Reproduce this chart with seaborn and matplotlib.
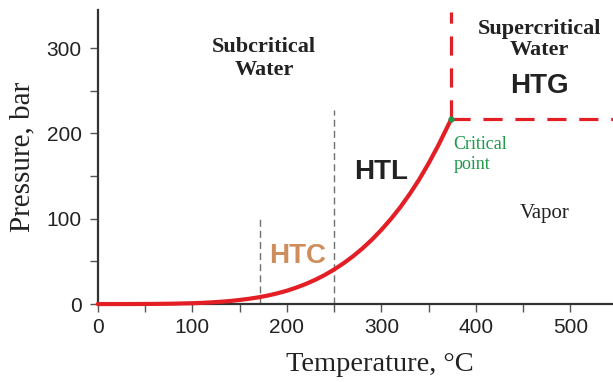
"""Water phase diagram with HTC / HTL / HTG processing regions."""

import matplotlib

matplotlib.use("Agg")
import matplotlib.pyplot as plt
import pandas as pd
import seaborn as sns

# vapour-pressure curve (temperature in C, pressure in bar)
temperature = [0, 20, 40, 60, 80, 100, 110, 120, 130, 140, 150, 160, 170, 180, 190,
               200, 210, 220, 230, 240, 250, 260, 270, 280, 290, 300, 310, 320, 330,
               340, 350, 360, 370, 374]
pressure = [0.0, 0.02, 0.07, 0.2, 0.47, 1.0, 1.4, 2.0, 2.7, 3.6, 4.8, 6.2, 7.9, 10.0, 12.6,
            15.6, 19.3, 23.5, 28.4, 34.0, 40.5, 47.8, 56.0, 65.2, 75.5, 87.0, 99.6, 113.5, 129.0,
            146.0, 165.0, 185.5, 208.0, 217.0]

critical_t = 374
critical_p = 217
htc_bounds = [172, 250]
htc_bound_tops = [100, 227]

x_ticks = [0, 100, 200, 300, 400, 500]
y_ticks = [0, 100, 200, 300]

RED = "#e31e25"
GREEN = "#1e9a4b"
TAN = "#d08d5c"
INK = "#222222"

sns.set_theme(style="ticks")
plt.rcParams["font.family"] = ["Liberation Sans", "DejaVu Sans"]

fig, ax = plt.subplots(figsize=(6.13, 3.82), dpi=100)
fig.subplots_adjust(left=0.1594, right=1.0, bottom=0.204, top=0.9746)

curve = pd.DataFrame({"T": temperature, "P": pressure})
sns.lineplot(data=curve, x="T", y="P", color=RED, linewidth=3.0, ax=ax,
             clip_on=False, zorder=4)

# HTC window boundaries
for t, top in zip(htc_bounds, htc_bound_tops):
    ax.plot([t, t], [0, top], color="#707070", linewidth=1.0, dashes=(5, 3), zorder=2)

# supercritical boundaries
ax.plot([critical_t, critical_t], [critical_p, 342], color=RED, linewidth=2.3,
        dashes=(6, 4), zorder=3)
ax.plot([critical_t, 545], [critical_p, critical_p], color=RED, linewidth=2.3,
        dashes=(6, 4), zorder=3)
ax.plot([critical_t], [critical_p], "o", color=GREEN, markersize=3.5, zorder=5)

ax.set_xlim(0, 545)
ax.set_ylim(0, 345)
ax.set_xticks(x_ticks)
ax.set_xticks(range(50, 550, 100), minor=True)
ax.set_yticks(y_ticks)
ax.set_yticks(range(50, 350, 100), minor=True)
ax.tick_params(which="both", direction="out", length=5.5, width=1.0, color="#555555")
ax.tick_params(which="major", labelsize=15, labelcolor=INK)
ax.tick_params(axis="x", which="major", pad=4.5)
ax.tick_params(axis="y", which="major", pad=6)

for side in ("top", "right"):
    ax.spines[side].set_visible(False)
for side in ("left", "bottom"):
    ax.spines[side].set_linewidth(1.6)
    ax.spines[side].set_color("#333333")

ax.set_xlabel("Temperature, °C", family="Liberation Serif", fontsize=20.5, color=INK)
ax.set_ylabel("Pressure, bar", family="Liberation Serif", fontsize=21, color=INK)
ax.xaxis.set_label_coords(0.548, -0.163)
ax.yaxis.set_label_coords(-0.121, 0.5)

serif = dict(family="Liberation Serif", ha="center", va="center")
ax.text(176, 288, "Subcritical\nWater", fontsize=16, fontweight="bold", color=INK,
        linespacing=1.2, **serif)
ax.text(467, 310, "Supercritical\nWater", fontsize=16, fontweight="bold", color=INK,
        linespacing=1.12, **serif)
ax.text(473, 106, "Vapor", fontsize=15, color=INK, **serif)
ax.text(376, 175, "Critical\npoint", fontsize=13, color=GREEN, family="Liberation Serif",
        ha="left", va="center", linespacing=1.25)

ax.text(467, 256, "HTG", fontsize=20, fontweight="bold", color=INK, ha="center", va="center")
ax.text(300, 155, "HTL", fontsize=20, fontweight="bold", color=INK, ha="center", va="center")
ax.text(211, 56, "HTC", fontsize=20, fontweight="bold", color=TAN, ha="center", va="center")

fig.savefig("out.png", dpi=100)
plt.close(fig)
